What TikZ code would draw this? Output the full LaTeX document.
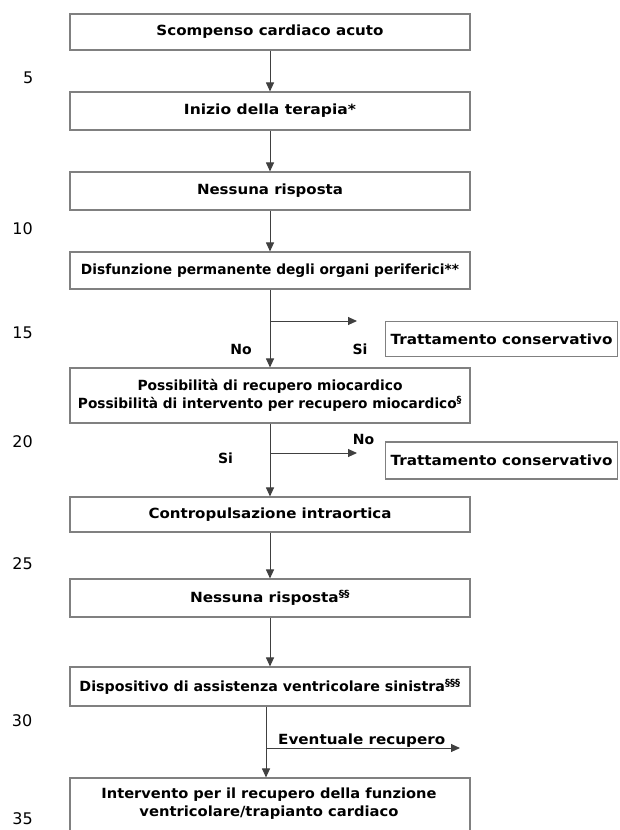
\documentclass[tikz,border=0pt]{standalone}
\usepackage{fontspec}
\setmainfont{DejaVu Sans}
\usetikzlibrary{arrows.meta}
\newcommand{\fw}[2]{\resizebox{#1}{\height}{#2}}
\begin{document}
\begin{tikzpicture}[x=1pt,y=-1pt,
  line/.style={draw=black!75, line width=1pt},
  arr/.style={line, -{Triangle[width=8pt,length=9pt]}},
  box/.style={draw=black!50, line width=1.1pt, minimum width=400pt, inner sep=0pt, align=center,
     font=\fontsize{14}{18}\selectfont\bfseries},
  sidebox/.style={draw=black!50, line width=1.1pt, minimum width=232pt, minimum height=35pt, inner sep=0pt,
     font=\fontsize{14}{18}\selectfont\bfseries},
  btext/.style={font=\fontsize{14}{18}\selectfont\bfseries, align=center, inner sep=0pt},
  lbl/.style={font=\fontsize{14}{18}\selectfont\bfseries, inner sep=0pt},
  num/.style={font=\fontsize{16}{18}\selectfont, anchor=east, inner sep=0pt}]
\useasboundingbox (0,0) rectangle (620,830);
\begin{scope}
\clip (0,0) rectangle (620,830);
% line numbers
\node[num] (n5) at (33.5,77.5) {5};
\node[num] (n10) at (33,228.5) {10};
\node[num] (n15) at (33,333) {15};
\node[num] (n20) at (33,442) {20};
\node[num] (n25) at (33,563.5) {25};
\node[num] (n30) at (32.5,720.5) {30};
\node[num] (n35) at (33,818.5) {35};
% main boxes
\node[box, minimum height=36pt] (b1) at (270,32) {\fw{227pt}{Scompenso cardiaco acuto}};
\node[box, minimum height=38pt] (b2) at (270,111) {\fw{172pt}{Inizio della terapia*}};
\node[box, minimum height=38pt] (b3) at (270,191) {\fw{146pt}{Nessuna risposta}};
\node[box, minimum height=37pt] (b4) at (270,270.5) {\fw{378pt}{Disfunzione permanente degli organi periferici**}};
\node[box, minimum height=55pt] (b5) at (270,395.5) {\fw{265pt}{Possibilità di recupero miocardico}\\\fw{384pt}{Possibilità di intervento per recupero miocardico\textsuperscript{§}}};
\node[box, minimum height=35pt] (b6) at (270,514.5) {\fw{243pt}{Contropulsazione intraortica}};
\node[box, minimum height=38pt] (b7) at (270,598) {\fw{160pt}{Nessuna risposta\textsuperscript{§§}}};
\node[box, minimum height=39pt] (b8) at (270,686.5) {\fw{381pt}{Dispositivo di assistenza ventricolare sinistra\textsuperscript{§§§}}};
\node[box, minimum height=64pt] (b9) at (270,810) {};
\node[btext] (b9t) at (269,804) {\fw{335pt}{Intervento per il recupero della funzione}\\\fw{259pt}{ventricolare/trapianto cardiaco}};
% side boxes
\node[sidebox, anchor=west] (t1) at (385,339) {\fw{222pt}{Trattamento conservativo}};
\node[sidebox, anchor=west, minimum height=37pt] (t2) at (385,460.5) {\fw{222pt}{Trattamento conservativo}};
% arrows
\draw[arr] (b1) -- (b2);
\draw[arr] (b2) -- (b3);
\draw[arr] (b3) -- (b4);
\draw[arr] (b4) -- (b5);
\draw[arr] (b5) -- (b6);
\draw[arr] (b6) -- (b7);
\draw[arr] (b7) -- (b8);
\draw[arr] (b8.south -| 266,0) coordinate (s8) -- (b9.north -| s8);
% branches
\coordinate (j1) at (270,321);
\coordinate (e1) at (357,321);
\draw[arr] (j1) -- (e1);
\coordinate (j2) at (270,453);
\coordinate (e2) at (357,453);
\draw[arr] (j2) -- (e2);
\coordinate (j3) at (266,748);
\coordinate (e3) at (460,748);
\draw[arr] (j3) -- (e3);
% labels
\node[lbl] (lno1) at (241,349) {No};
\node[lbl] (lsi1) at (360,349) {Si};
\node[lbl] (lno2) at (363.5,439) {No};
\node[lbl] (lsi2) at (225.5,458) {Si};
\node[lbl, anchor=base west] (lev) at (278,744) {\fw{167pt}{Eventuale recupero}};
\end{scope}
\end{tikzpicture}
\end{document}
